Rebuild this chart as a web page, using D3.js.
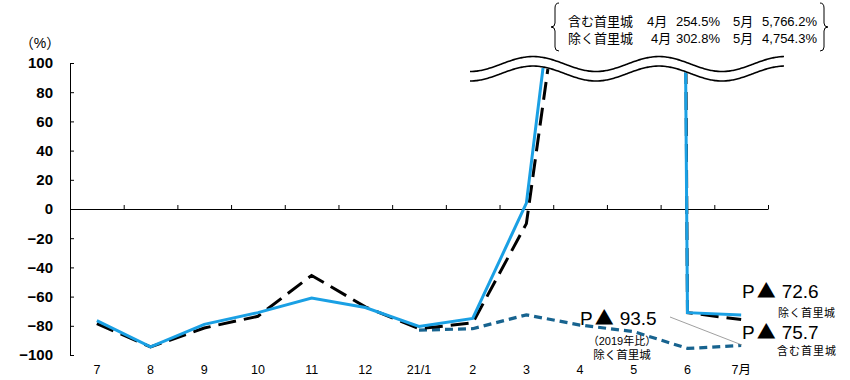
<!DOCTYPE html>
<html>
<head>
<meta charset="utf-8">
<script src="https://cdn.jsdelivr.net/npm/d3@7"></script>
<style>
  body { margin: 0; background: #fff; }
  svg text { font-family: "Liberation Sans", Arial, "Noto Sans CJK JP", sans-serif; fill: #000; }
  .cjk { font-family: "Noto Sans CJK JP", sans-serif; }
</style>
</head>
<body>
<div id="chart"></div>
<script>
// 月
var months = ["7", "8", "9", "10", "11", "12", "21/1", "2", "3", "4", "5", "6", "7月"];
// 除く首里城（前年比, %）
var exclShuri = [-76.5, -94.5, -79, -71, -61, -67.5, -80.5, -75, 4, 302.8, 4754.3, -71, -72.6];
// 含む首里城（前年比, %）
var inclShuri = [-78.5, -94.5, -81.5, -73.5, -45.5, -67, -82, -78, -10, 254.5, 5766.2, -71, -75.7];
// 除く首里城（2019年比, %）
var excl2019 = [null, null, null, null, null, null, -83, -82, -72.5, -79.5, -84, -95.5, -93.5];

var yTicks = [-100, -80, -60, -40, -20, 0, 20, 40, 60, 80, 100];
var topNotes = [
  ["含む首里城", "4月", "254.5%", "5月", "5,766.2%"],
  ["除く首里城", "4月", "302.8%", "5月", "4,754.3%"]
];

var width = 850, height = 380;
var pLeft = 70, pRight = 768, pTop = 63, pBottom = 355;

var svg = d3.select("#chart").append("svg")
  .attr("width", width)
  .attr("height", height);

var x = d3.scaleBand().domain(months).range([pLeft, pRight]);
var xb = d3.scaleLinear().domain([0, months.length]).range([pLeft, pRight]);
var y = d3.scaleLinear().domain([-100, 100]).range([pBottom, pTop]);

function cx(i) { return x(months[i]) + x.bandwidth() / 2; }

// y軸
svg.append("g")
  .attr("transform", "translate(" + pLeft + ",0)")
  .call(d3.axisLeft(y).tickValues(yTicks).tickSizeInner(-4).tickSizeOuter(0).tickPadding(17)
    .tickFormat(function(d) { return d < 0 ? "\u2212" + Math.abs(d) : d; }))
  .call(function(g) {
    g.selectAll("text").style("font-size", "15px").style("font-weight", "bold");
    g.selectAll("line,path").attr("stroke", "#000");
  });

svg.append("text")
  .attr("x", 40).attr("y", 48)
  .attr("text-anchor", "middle")
  .style("font-size", "14px")
  .text("（%）");

// ゼロ線
svg.append("g")
  .attr("transform", "translate(0," + y(0) + ")")
  .call(d3.axisBottom(xb).tickValues(d3.range(1, months.length + 1)).tickSizeInner(-4).tickSizeOuter(0).tickFormat(""))
  .call(function(g) { g.selectAll("line,path").attr("stroke", "#000"); });

// 月ラベル
svg.append("g")
  .attr("transform", "translate(0," + pBottom + ")")
  .call(d3.axisBottom(x).tickSize(0).tickPadding(10))
  .call(function(g) {
    g.select(".domain").remove();
    g.selectAll("text").style("font-size", "12.5px");
  });

// 線
svg.append("clipPath").attr("id", "clip")
  .append("rect").attr("x", pLeft).attr("y", pTop).attr("width", pRight - pLeft + 20).attr("height", pBottom - pTop);

var line = d3.line()
  .defined(function(d) { return d != null; })
  .x(function(d, i) { return cx(i); })
  .y(function(d) { return y(d); });

var plot = svg.append("g").attr("clip-path", "url(#clip)");

plot.append("path").datum(excl2019)
  .attr("fill", "none").attr("stroke", "#17638f").attr("stroke-width", 3.2)
  .attr("stroke-dasharray", "8,5")
  .attr("d", line);

plot.append("path").datum(inclShuri)
  .attr("fill", "none").attr("stroke", "#000").attr("stroke-width", 3)
  .attr("stroke-dasharray", "18,8")
  .attr("d", line);

plot.append("path").datum(exclShuri)
  .attr("fill", "none").attr("stroke", "#1aa0e4").attr("stroke-width", 3)
  .attr("d", line);

// 省略の波線
var waveX = d3.range(470, 786, 2);
function waveY(xx) { return 64 + 7.5 * Math.cos(2 * Math.PI * (xx - 470) / 126); }
var gap = 9.5;
svg.append("path")
  .datum(waveX)
  .attr("fill", "#fff")
  .attr("d", d3.area().x(function(d) { return d; })
    .y0(function(d) { return waveY(d) - 1; })
    .y1(function(d) { return waveY(d) + gap + 1; }));
[0, gap].forEach(function(off) {
  svg.append("path")
    .datum(waveX)
    .attr("fill", "none").attr("stroke", "#000").attr("stroke-width", 1.6)
    .attr("d", d3.line().curve(d3.curveBasis).x(function(d) { return d; }).y(function(d) { return waveY(d) + off; }));
});

// 上部注記
var colStart = [[568, 647, null, 733, null], [568, 651, null, 733, null]];
var colEnd = [null, null, 720, null, 817];
topNotes.forEach(function(row, r) {
  row.forEach(function(t, c) {
    var el = svg.append("text")
      .attr("y", 26 + r * 17)
      .style("font-size", "13px")
      .text(t);
    if (colStart[r][c] != null) el.attr("x", colStart[r][c]);
    else el.attr("x", colEnd[c]).attr("text-anchor", "end");
  });
});

svg.append("path")
  .attr("fill", "none").attr("stroke", "#000").attr("stroke-width", 1)
  .attr("d", "M559,3 Q555,3 555,8 L555,23 Q555,27 551,27 Q555,27 555,31 L555,47 Q555,51 559,51");
svg.append("path")
  .attr("fill", "none").attr("stroke", "#000").attr("stroke-width", 1)
  .attr("d", "M820,3 Q824,3 824,8 L824,23 Q824,27 828,27 Q824,27 824,31 L824,47 Q824,51 820,51");

// 注記（P▲）
function pLabel(px, py, val) {
  var t = svg.append("text").attr("x", px).attr("y", py).style("font-size", "19px");
  t.append("tspan").text("P");
  t.append("tspan").attr("class", "cjk").attr("dx", 2).text("▲");
  t.append("tspan").attr("dx", 6).text(val);
}
pLabel(742, 298, "72.6");
svg.append("text").attr("x", 778).attr("y", 317).style("font-size", "11px").style("letter-spacing", "0.5px").text("除く首里城");
pLabel(742, 339, "75.7");
svg.append("text").attr("x", 777).attr("y", 355).style("font-size", "11px").style("letter-spacing", "1px").text("含む首里城");

pLabel(580, 325, "93.5");
svg.append("text").attr("x", 622).attr("y", 345).attr("text-anchor", "middle").style("font-size", "11px").text("（2019年比）");
svg.append("text").attr("x", 622).attr("y", 359).attr("text-anchor", "middle").style("font-size", "11.5px").text("除く首里城");

svg.append("line")
  .attr("x1", 670).attr("y1", 317).attr("x2", 742).attr("y2", 345)
  .attr("stroke", "#888").attr("stroke-width", 0.8);
</script>
</body>
</html>
